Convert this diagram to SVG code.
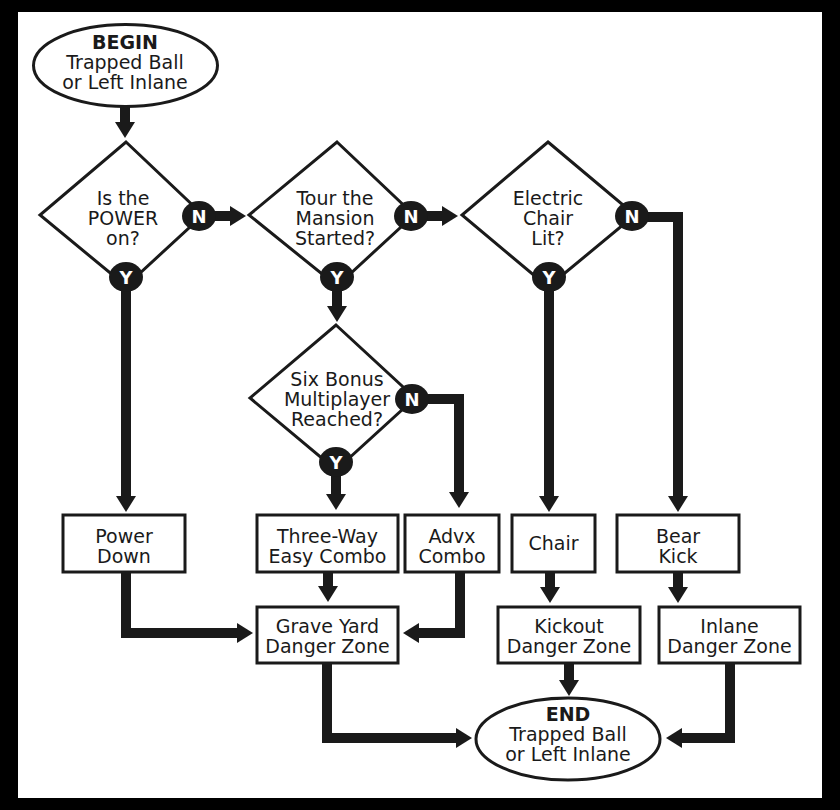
<svg xmlns="http://www.w3.org/2000/svg" width="840" height="810" viewBox="0 0 840 810">
<defs>
<marker id="ah" viewBox="0 0 16 20" refX="0" refY="10" markerWidth="16" markerHeight="20" markerUnits="userSpaceOnUse" orient="auto">
<path d="M0,0 L16,10 L0,20 Z" fill="#1a1a1a"/>
</marker>
</defs>
<style>
.t{font-family:"DejaVu Sans",sans-serif;font-size:19px;fill:#1a1a1a;text-anchor:middle}
.b{font-weight:bold}
.sh{fill:#fff;stroke:#1a1a1a;stroke-width:3}
.c{fill:none;stroke:#1a1a1a;stroke-width:10;stroke-linejoin:miter}
.yn{fill:#1a1a1a}
.ynt{font-family:"DejaVu Sans",sans-serif;font-size:18px;font-weight:bold;fill:#fff;text-anchor:middle}
</style>
<rect x="0" y="0" width="840" height="810" fill="#000"/>
<rect x="18" y="12" width="804" height="786" fill="#fff"/>
<g id="connectors">
<path class="c" d="M125,106 V122" marker-end="url(#ah)"/>
<path class="c" d="M199,216 H230" marker-end="url(#ah)"/>
<path class="c" d="M411,216 H442" marker-end="url(#ah)"/>
<path class="c" d="M632,217 H678 V496" marker-end="url(#ah)"/>
<path class="c" d="M126,277 V496" marker-end="url(#ah)"/>
<path class="c" d="M337,277 V306" marker-end="url(#ah)"/>
<path class="c" d="M549,277 V496" marker-end="url(#ah)"/>
<path class="c" d="M336,462 V494" marker-end="url(#ah)"/>
<path class="c" d="M412,399 H459 V492" marker-end="url(#ah)"/>
<path class="c" d="M126,572 V633 H237" marker-end="url(#ah)"/>
<path class="c" d="M328,572 V586" marker-end="url(#ah)"/>
<path class="c" d="M460,572 V633 H419" marker-end="url(#ah)"/>
<path class="c" d="M550,572 V587" marker-end="url(#ah)"/>
<path class="c" d="M678,572 V587" marker-end="url(#ah)"/>
<path class="c" d="M327,663 V738 H456" marker-end="url(#ah)"/>
<path class="c" d="M569,663 V680" marker-end="url(#ah)"/>
<path class="c" d="M730,663 V738 H682" marker-end="url(#ah)"/>
</g>
<g id="begin">
<ellipse class="sh" cx="125.5" cy="65.5" rx="92" ry="41"/>
<text class="t b" x="125" y="49">BEGIN</text>
<text class="t" x="125" y="69">Trapped Ball</text>
<text class="t" x="125" y="89">or Left Inlane</text>
</g>
<g id="d1">
<polygon class="sh" points="126,142 203,215 126,286 40,215"/>
<text class="t" x="123" y="205">Is the</text>
<text class="t" x="123" y="225">POWER</text>
<text class="t" x="123" y="245">on?</text>
<ellipse class="yn" cx="199" cy="216" rx="17" ry="15"/>
<text class="ynt" x="199" y="222.5">N</text>
<ellipse class="yn" cx="126" cy="277" rx="17" ry="15"/>
<text class="ynt" x="126" y="283.5">Y</text>
</g>
<g id="d2">
<polygon class="sh" points="337,142 414,215 337,286 249,215"/>
<text class="t" x="335" y="205">Tour the</text>
<text class="t" x="335" y="225">Mansion</text>
<text class="t" x="335" y="245">Started?</text>
<ellipse class="yn" cx="411" cy="216" rx="17" ry="15"/>
<text class="ynt" x="411" y="222.5">N</text>
<ellipse class="yn" cx="337" cy="277" rx="17" ry="15"/>
<text class="ynt" x="337" y="283.5">Y</text>
</g>
<g id="d3">
<polygon class="sh" points="548,142 635,215 548,287 462,215"/>
<text class="t" x="548" y="205">Electric</text>
<text class="t" x="548" y="225">Chair</text>
<text class="t" x="548" y="245">Lit?</text>
<ellipse class="yn" cx="632" cy="216" rx="17" ry="15"/>
<text class="ynt" x="632" y="222.5">N</text>
<ellipse class="yn" cx="549" cy="277" rx="17" ry="15"/>
<text class="ynt" x="549" y="283.5">Y</text>
</g>
<g id="d4">
<polygon class="sh" points="336,325 415,398 336,470 250,398"/>
<text class="t" x="337" y="386">Six Bonus</text>
<text class="t" x="337" y="406">Multiplayer</text>
<text class="t" x="337" y="426">Reached?</text>
<ellipse class="yn" cx="412" cy="399" rx="17" ry="15"/>
<text class="ynt" x="412" y="405.5">N</text>
<ellipse class="yn" cx="336" cy="462" rx="17" ry="15"/>
<text class="ynt" x="336" y="468.5">Y</text>
</g>
<g id="powerdown">
<rect class="sh" x="63" y="515" width="122" height="57"/>
<text class="t" x="124" y="543">Power</text>
<text class="t" x="124" y="563">Down</text>
</g>
<g id="threeway">
<rect class="sh" x="257" y="515" width="141" height="57"/>
<text class="t" x="327.5" y="543">Three-Way</text>
<text class="t" x="327.5" y="563">Easy Combo</text>
</g>
<g id="advx">
<rect class="sh" x="405" y="515" width="94" height="57"/>
<text class="t" x="452" y="543">Advx</text>
<text class="t" x="452" y="563">Combo</text>
</g>
<g id="chair">
<rect class="sh" x="512" y="515" width="83" height="57"/>
<text class="t" x="553.5" y="550">Chair</text>
</g>
<g id="bearkick">
<rect class="sh" x="617" y="515" width="122" height="57"/>
<text class="t" x="678" y="543">Bear</text>
<text class="t" x="678" y="563">Kick</text>
</g>
<g id="graveyard">
<rect class="sh" x="257" y="607" width="141" height="56"/>
<text class="t" x="327.5" y="633">Grave Yard</text>
<text class="t" x="327.5" y="653">Danger Zone</text>
</g>
<g id="kickout">
<rect class="sh" x="498" y="607" width="142" height="56"/>
<text class="t" x="569" y="633">Kickout</text>
<text class="t" x="569" y="653">Danger Zone</text>
</g>
<g id="inlane">
<rect class="sh" x="659" y="607" width="141" height="56"/>
<text class="t" x="729.5" y="633">Inlane</text>
<text class="t" x="729.5" y="653">Danger Zone</text>
</g>
<g id="end">
<ellipse class="sh" cx="568" cy="739" rx="92" ry="41"/>
<text class="t b" x="568" y="721">END</text>
<text class="t" x="568" y="741">Trapped Ball</text>
<text class="t" x="568" y="761">or Left Inlane</text>
</g>
</svg>
